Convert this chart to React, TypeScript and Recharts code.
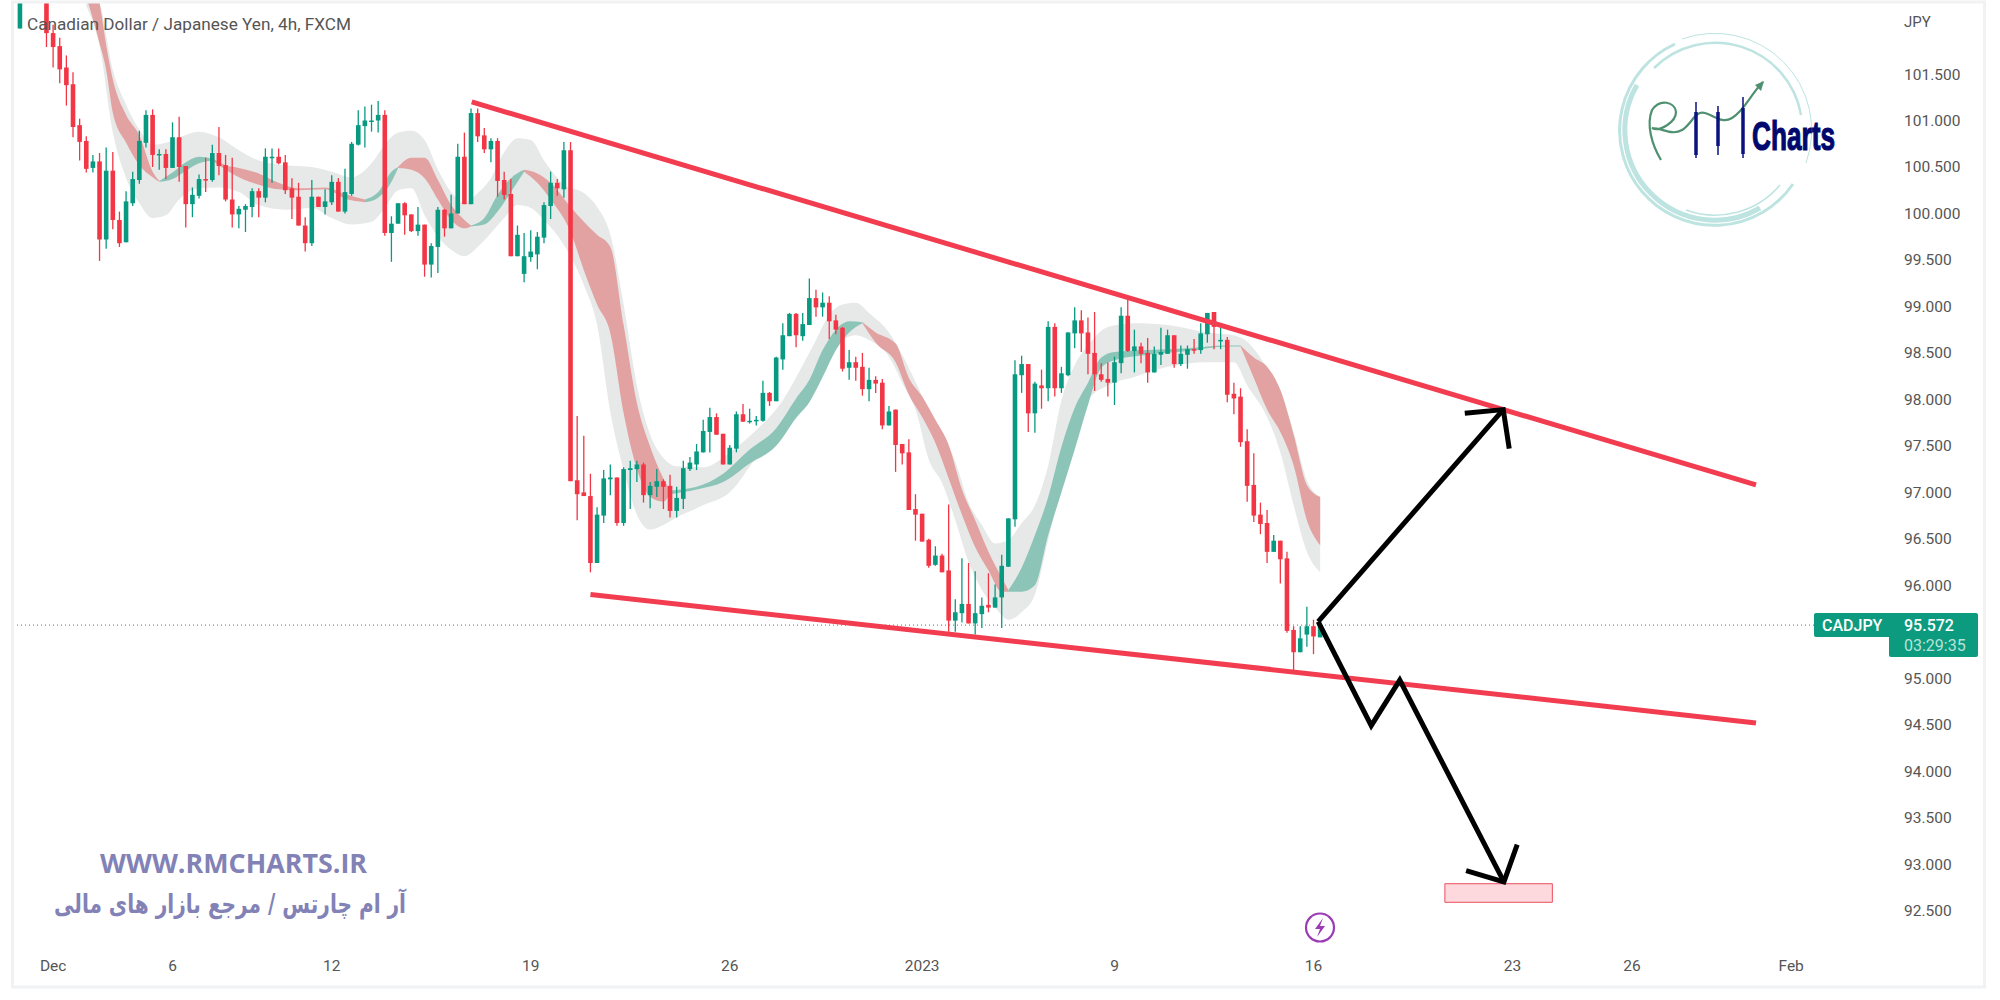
import React from 'react';
import {
  ComposedChart, Bar, Area, Line, XAxis, YAxis, ReferenceLine, ReferenceArea
} from 'recharts';

const UP = '#089981';
const DOWN = '#f23645';

// 4h candles, one per bar index, top-left ones run off the visible range
const opens = [
  101.99, 102.9, 102.7, 102.6, 102.45, 101.94, 101.80, 101.57, 101.39, 100.95,
  100.78, 100.49, 100.56, 99.72, 100.46, 99.93, 99.69, 100.11, 100.36, 100.76,
  101.06, 100.63, 100.64, 100.49, 100.82, 100.51, 100.10, 100.19, 100.37, 100.36,
  100.65, 100.52, 100.15, 99.99, 100.04, 100.07, 100.24, 100.17, 100.60, 100.61,
  100.55, 100.27, 100.18, 99.87, 99.68, 100.18, 100.07, 100.12, 100.34, 100.02,
  100.21, 100.74, 100.94, 100.99, 101.00, 101.06, 99.79, 99.89, 100.11, 99.99,
  99.81, 99.88, 99.45, 99.64, 100.04, 99.84, 100.00, 100.61, 100.10, 101.08,
  100.84, 100.69, 100.78, 100.36, 100.21, 99.54, 99.35, 99.53, 99.56, 99.74,
  100.08, 100.33, 100.26, 100.68, 97.13, 97.00, 96.96, 96.24, 96.75, 97.14,
  97.16, 96.67, 97.24, 97.25, 97.30, 96.97, 97.06, 97.12, 97.07, 96.80,
  96.93, 97.25, 97.30, 97.43, 97.65, 97.81, 97.63, 97.30, 97.47, 97.84,
  97.76, 97.77, 97.77, 98.07, 97.98, 98.43, 98.68, 98.92, 98.68, 98.80,
  99.09, 98.99, 99.04, 98.85, 98.77, 98.34, 98.40, 98.35, 98.11, 98.21,
  98.18, 97.72, 97.89, 97.52, 97.43, 96.82, 96.77, 96.49, 96.22, 96.32,
  96.16, 95.62, 95.70, 95.80, 95.59, 95.69, 95.79, 95.76, 95.87, 96.20,
  96.71, 98.26, 98.38, 97.85, 98.15, 98.12, 98.78, 98.12, 98.26, 98.71,
  98.85, 98.72, 98.50, 98.27, 98.22, 98.18, 98.39, 98.90, 98.52, 98.57,
  98.50, 98.29, 98.48, 98.49, 98.69, 98.38, 98.48, 98.54, 98.53, 98.70,
  98.94, 98.63, 98.64, 98.06, 98.03, 97.55, 97.08, 96.76, 96.67, 96.36,
  96.48, 96.29, 95.52, 95.28, 95.47, 95.56, 95.44,
];
const highs = [
  102.40, 103.0, 102.9, 102.7, 102.6, 102.03, 101.89, 101.70, 101.52, 101.02,
  100.83, 100.63, 100.65, 100.71, 100.66, 100.02, 100.24, 100.45, 100.89, 101.11,
  101.12, 100.69, 100.69, 100.98, 101.04, 100.51, 100.28, 100.42, 100.60, 100.74,
  100.93, 100.63, 100.60, 100.08, 100.10, 100.27, 100.27, 100.70, 100.70, 100.70,
  100.63, 100.38, 100.33, 99.96, 100.36, 100.18, 100.26, 100.41, 100.38, 100.48,
  100.77, 101.11, 101.15, 101.17, 101.21, 101.11, 99.97, 100.11, 100.12, 99.99,
  100.07, 99.88, 99.68, 100.07, 100.05, 100.20, 100.75, 100.87, 101.13, 101.13,
  100.92, 100.81, 100.81, 100.45, 100.37, 99.87, 99.79, 99.82, 99.80, 100.12,
  100.45, 100.37, 100.77, 100.77, 97.82, 97.61, 97.20, 96.84, 97.24, 97.30,
  97.16, 97.27, 97.34, 97.34, 97.32, 97.11, 97.25, 97.14, 97.19, 97.06,
  97.34, 97.38, 97.52, 97.78, 97.91, 97.85, 97.63, 97.51, 97.87, 97.95,
  97.90, 97.82, 98.20, 98.08, 98.46, 98.82, 98.93, 98.93, 98.93, 99.30,
  99.18, 99.15, 99.11, 98.91, 98.78, 98.53, 98.46, 98.50, 98.34, 98.25,
  98.22, 97.93, 97.89, 97.52, 97.57, 96.98, 96.77, 96.50, 96.42, 96.34,
  96.87, 95.85, 96.29, 96.24, 96.15, 95.87, 96.13, 96.01, 96.33, 96.72,
  98.42, 98.47, 98.38, 98.19, 98.32, 98.84, 98.82, 98.35, 98.72, 98.99,
  98.96, 98.88, 98.94, 98.39, 98.40, 98.46, 98.99, 99.09, 98.75, 98.61,
  98.66, 98.57, 98.77, 98.75, 98.69, 98.58, 98.58, 98.65, 98.82, 98.93,
  98.94, 98.77, 98.67, 98.18, 98.12, 97.68, 97.42, 96.89, 96.81, 96.54,
  96.48, 96.36, 95.56, 95.56, 95.77, 95.63, 95.63,
];
const lows = [
  101.99, 102.6, 102.4, 102.35, 101.79, 101.57, 101.40, 101.16, 100.82, 100.57,
  100.44, 100.44, 99.49, 99.62, 99.83, 99.64, 99.69, 100.08, 100.32, 100.71,
  100.50, 100.47, 100.37, 100.49, 100.34, 99.85, 99.96, 100.16, 100.23, 100.34,
  100.41, 100.13, 99.85, 99.84, 99.80, 99.96, 99.96, 100.12, 100.33, 100.53,
  100.21, 99.94, 99.87, 99.59, 99.65, 100.07, 99.99, 100.09, 100.02, 100.00,
  100.19, 100.73, 100.71, 100.88, 100.87, 99.76, 99.48, 99.89, 99.77, 99.80,
  99.76, 99.32, 99.31, 99.36, 99.75, 99.84, 100.00, 100.10, 100.10, 100.77,
  100.65, 100.55, 100.18, 100.15, 99.54, 99.54, 99.26, 99.48, 99.40, 99.68,
  99.94, 100.19, 100.17, 97.12, 96.70, 96.96, 96.14, 96.24, 96.67, 96.97,
  96.64, 96.64, 96.82, 97.11, 96.89, 96.83, 96.95, 96.82, 96.73, 96.73,
  96.82, 97.23, 97.24, 97.43, 97.43, 97.62, 97.30, 97.30, 97.43, 97.76,
  97.74, 97.72, 97.76, 97.93, 97.98, 98.32, 98.68, 98.56, 98.63, 98.80,
  98.89, 98.89, 98.65, 98.70, 98.30, 98.21, 98.20, 98.04, 97.98, 98.07,
  97.68, 97.72, 97.22, 97.30, 96.81, 96.48, 96.47, 96.19, 96.21, 96.14,
  95.50, 95.50, 95.60, 95.59, 95.47, 95.54, 95.71, 95.76, 95.54, 96.20,
  96.63, 98.07, 97.65, 97.64, 97.90, 97.98, 98.03, 98.07, 98.25, 98.55,
  98.51, 98.27, 98.09, 98.19, 98.03, 97.94, 98.28, 98.51, 98.29, 98.39,
  98.18, 98.29, 98.37, 98.49, 98.34, 98.36, 98.33, 98.49, 98.49, 98.61,
  98.54, 98.54, 97.97, 97.84, 97.49, 96.90, 96.68, 96.55, 96.24, 96.36,
  96.02, 95.49, 95.08, 95.28, 95.34, 95.26, 95.44,
];
const closes = [
  102.35, 102.7, 102.5, 102.45, 101.94, 101.79, 101.55, 101.38, 100.93, 100.77,
  100.48, 100.56, 99.72, 100.46, 99.93, 99.68, 100.13, 100.37, 100.78, 101.06,
  100.63, 100.64, 100.49, 100.82, 100.50, 100.10, 100.20, 100.37, 100.36, 100.65,
  100.51, 100.15, 99.99, 100.05, 100.08, 100.24, 100.17, 100.61, 100.61, 100.54,
  100.25, 100.17, 99.87, 99.68, 100.18, 100.07, 100.13, 100.34, 100.02, 100.23,
  100.75, 100.95, 101.00, 101.00, 101.06, 99.79, 99.89, 100.11, 99.98, 99.81,
  99.88, 99.45, 99.65, 100.04, 99.84, 100.00, 100.61, 100.10, 101.08, 100.83,
  100.69, 100.78, 100.35, 100.20, 99.54, 99.77, 99.54, 99.59, 99.75, 100.09,
  100.33, 100.27, 100.68, 97.12, 96.98, 96.96, 96.24, 96.76, 97.15, 97.16,
  96.67, 97.25, 97.26, 97.30, 96.97, 97.07, 97.12, 97.06, 96.80, 96.94,
  97.26, 97.32, 97.44, 97.66, 97.81, 97.62, 97.30, 97.48, 97.84, 97.76,
  97.77, 97.78, 98.07, 97.98, 98.45, 98.69, 98.92, 98.69, 98.81, 99.09,
  98.99, 99.04, 98.84, 98.75, 98.33, 98.40, 98.34, 98.11, 98.21, 98.17,
  97.72, 97.87, 97.51, 97.42, 96.81, 96.76, 96.47, 96.21, 96.32, 96.14,
  95.62, 95.71, 95.80, 95.59, 95.70, 95.78, 95.76, 95.87, 96.21, 96.72,
  98.27, 98.38, 97.85, 98.17, 98.12, 98.78, 98.12, 98.28, 98.72, 98.85,
  98.71, 98.49, 98.27, 98.21, 98.18, 98.40, 98.90, 98.52, 98.57, 98.49,
  98.29, 98.49, 98.51, 98.69, 98.38, 98.49, 98.54, 98.53, 98.71, 98.93,
  98.78, 98.64, 98.05, 98.01, 97.54, 97.07, 96.75, 96.66, 96.36, 96.48,
  96.28, 95.51, 95.28, 95.43, 95.56, 95.45, 95.57,
];

// [bar index, upper price, lower price]
const grayBand = [
  [10, 102.46, 102.23], [12, 102.26, 101.80], [14, 101.54, 100.87], [16, 101.17, 100.38],
  [18, 100.90, 100.11], [20, 100.74, 99.95], [22, 100.76, 99.98], [24, 100.82, 100.15],
  [27, 100.88, 100.27], [30, 100.82, 100.28], [33, 100.68, 100.23], [36, 100.57, 100.09],
  [40, 100.52, 100.04], [44, 100.50, 100.06], [47, 100.45, 99.95], [50, 100.39, 99.88],
  [53, 100.54, 99.91], [55, 100.74, 100.06], [57, 100.87, 100.25], [59, 100.89, 100.27],
  [61, 100.79, 99.98], [63, 100.47, 99.75], [65, 100.23, 99.61], [67, 100.11, 99.54],
  [69, 100.22, 99.64], [71, 100.38, 99.79], [73, 100.66, 99.95], [75, 100.81, 100.09],
  [77, 100.79, 100.06], [79, 100.57, 99.93], [82, 100.31, 99.66], [85, 100.22, 99.23],
  [87, 100.07, 98.80], [89, 99.77, 97.86], [91, 99.02, 97.24], [93, 98.15, 96.76],
  [95, 97.62, 96.60], [97, 97.37, 96.65], [99, 97.28, 96.73], [103, 97.27, 96.86],
  [107, 97.43, 97.00], [111, 97.67, 97.37], [115, 97.99, 97.67], [118, 98.37, 97.91],
  [120, 98.64, 98.26], [122, 98.91, 98.51], [124, 99.02, 98.64], [126, 99.04, 98.69],
  [128, 98.93, 98.64], [131, 98.72, 98.46], [133, 98.48, 98.18], [135, 98.19, 97.89],
  [137, 97.89, 97.35], [139, 97.64, 97.10], [141, 97.33, 96.70], [143, 96.89, 96.25],
  [145, 96.65, 95.95], [147, 96.45, 95.76], [149, 96.49, 95.63], [151, 96.67, 95.71],
  [153, 96.86, 95.90], [155, 97.29, 96.49], [157, 97.99, 97.08], [159, 98.37, 97.69],
  [161, 98.58, 97.99], [164, 98.78, 98.15], [168, 98.82, 98.24], [173, 98.80, 98.35],
  [179, 98.72, 98.40], [183, 98.69, 98.40], [185, 98.62, 98.15], [188, 98.34, 97.81],
  [190, 98.10, 97.43], [192, 97.65, 96.86], [194, 97.13, 96.36], [196, 96.95, 96.14],
];

const redBands = [
  [[10, 102.62, 102.33], [12, 102.26, 101.83], [13, 101.81, 101.54], [14, 101.44, 101.08],
    [16, 101.06, 100.76], [18, 100.84, 100.52], [20, 100.45, 100.39], [21, 100.35, 100.34]],
  [[29, 100.59, 100.57], [31, 100.52, 100.47], [33, 100.49, 100.39], [36, 100.43, 100.31],
    [39, 100.33, 100.26], [42, 100.27, 100.25], [46, 100.28, 100.26], [49, 100.21, 100.16],
    [52, 100.15, 100.12]],
  [[57, 100.50, 100.49], [59, 100.60, 100.47], [61, 100.60, 100.38], [63, 100.36, 100.15],
    [65, 100.09, 99.93], [67, 99.93, 99.84], [68, 99.87, 99.86]],
  [[76, 100.47, 100.45], [78, 100.43, 100.33], [80, 100.33, 100.15], [83, 100.07, 99.80],
    [85, 99.91, 99.39], [87, 99.77, 99.02], [89, 99.64, 98.71], [91, 98.80, 97.85],
    [93, 97.96, 97.25], [95, 97.49, 96.95], [97, 97.15, 96.90], [98, 97.02, 96.98]],
  [[127, 98.83, 98.82], [129, 98.72, 98.61], [132, 98.60, 98.40], [134, 98.23, 98.05],
    [136, 98.03, 97.81], [138, 97.78, 97.53], [140, 97.51, 97.15], [142, 97.03, 96.76],
    [144, 96.70, 96.41], [146, 96.36, 96.16], [148, 96.08, 95.93], [149, 95.95, 95.93]],
  [[184, 98.58, 98.57], [186, 98.45, 98.23], [188, 98.35, 97.89], [190, 98.10, 97.65],
    [192, 97.62, 97.29], [194, 97.08, 96.70], [196, 96.95, 96.43]],
];

const greenBands = [
  [[21, 100.35, 100.34], [23, 100.44, 100.37], [25, 100.55, 100.46], [27, 100.61, 100.54],
    [29, 100.59, 100.57]],
  [[52, 100.15, 100.12], [54, 100.23, 100.17], [56, 100.45, 100.34], [57, 100.50, 100.49]],
  [[68, 99.87, 99.86], [70, 99.95, 99.88], [72, 100.20, 100.02], [74, 100.38, 100.23],
    [76, 100.47, 100.45]],
  [[98, 97.02, 96.98], [102, 97.06, 97.03], [106, 97.20, 97.11], [110, 97.46, 97.31],
    [114, 97.69, 97.50], [117, 98.01, 97.80], [119, 98.21, 97.97], [121, 98.53, 98.24],
    [123, 98.75, 98.53], [125, 98.84, 98.72], [127, 98.83, 98.82]],
  [[149, 95.95, 95.93], [151, 96.19, 95.93], [153, 96.54, 96.00], [155, 96.95, 96.54],
    [157, 97.49, 97.00], [159, 97.91, 97.46], [161, 98.18, 97.94], [163, 98.45, 98.34],
    [165, 98.51, 98.42], [170, 98.53, 98.48], [176, 98.55, 98.52], [182, 98.58, 98.57],
    [184, 98.58, 98.57]],
];

// drawn trendlines and arrows: [bar index, price]
const upperTrend = [[68.1, 101.20], [261.7, 97.08]];
const lowerTrend = [[86, 95.90], [261.7, 94.52]];
const upArrow = [[195.7, 95.61], [223.6, 97.89]];
const upArrowHead = [[217.8, 97.85], [223.6, 97.89], [224.5, 97.47]];
const downArrow = [[195.7, 95.61], [203.7, 94.49], [208, 94.98], [223.7, 92.81]];
const downArrowHead = [[218, 92.93], [223.7, 92.81], [225.7, 93.21]];

const targetZone = { x1: 214.8, x2: 231, y1: 92.59, y2: 92.79 };
const lastPrice = 95.572;

// 95.500 sits under the price tag in the reference, so it has no label
const priceTicks = [
  92.5, 93, 93.5, 94, 94.5, 95, 96, 96.5, 97, 97.5, 98, 98.5, 99, 99.5, 100, 100.5, 101, 101.5,
];
const timeTicks = [5, 23, 47, 77, 107, 136, 165, 195, 225, 243, 267];
const timeLabels = ['Dec', '6', '12', '19', '26', '2023', '9', '16', '23', '26', 'Feb'];

const candleRows = opens.map((open, i) => ({
  x: i,
  open,
  high: highs[i],
  low: lows[i],
  close: closes[i],
  range: [lows[i], highs[i]],
}));

const toBandRows = (rows: number[][]) => rows.map(([x, hi, lo]) => ({ x, range: [lo, hi] }));
const toLineRows = (rows: number[][]) => rows.map(([x, y]) => ({ x, y }));

const Candle = (props: any) => {
  const { x, y, width, height, payload } = props;
  const { open, high, low, close } = payload;
  const mid = x + width / 2;
  const toY = (p: number) => y + ((high - p) / (high - low || 1)) * height;
  const color = close >= open ? UP : DOWN;
  const top = toY(Math.max(open, close));
  const bottom = toY(Math.min(open, close));
  return (
    <g>
      <line x1={mid} x2={mid} y1={y} y2={y + height} stroke={color} strokeWidth={1.3} />
      <rect x={mid - 2.3} y={top} width={4.6} height={Math.max(bottom - top, 1.5)} fill={color} />
    </g>
  );
};

const Band = ({ rows, fill }: { rows: number[][]; fill: string }) => (
  <Area
    data={toBandRows(rows)}
    dataKey="range"
    type="monotone"
    stroke="none"
    fill={fill}
    fillOpacity={1}
    dot={false}
    activeDot={false}
    legendType="none"
    isAnimationActive={false}
  />
);

const Stroke = ({ rows, color, width }: { rows: number[][]; color: string; width: number }) => (
  <Line
    data={toLineRows(rows)}
    dataKey="y"
    type="linear"
    stroke={color}
    strokeWidth={width}
    dot={false}
    activeDot={false}
    legendType="none"
    isAnimationActive={false}
  />
);

const tickStyle = { fontFamily: 'Roboto, sans-serif', fontSize: 15.5, fill: '#555' };

const Overlay = () => (
  <svg width={2000} height={1000} style={{ position: 'absolute', left: 0, top: 0, pointerEvents: 'none' }}>
    <rect x={12.5} y={2} width={1972} height={985} fill="none" stroke="#f1f2f4" strokeWidth={3} />
    <text x={27} y={30} fontFamily="Roboto, sans-serif" fontSize={17} fill="#555" textLength={324} lengthAdjust="spacingAndGlyphs">
      Canadian Dollar / Japanese Yen, 4h, FXCM
    </text>
    <text x={1904} y={27} fontFamily="Roboto, sans-serif" fontSize={15} fill="#555">JPY</text>

    {/* price tag */}
    <rect x={1814} y={613} width={164} height={24} rx={2} fill="#0c9b7e" />
    <rect x={1889} y={633} width={89} height={24} rx={2} fill="#0c9b7e" />
    <text x={1822} y={631} fontFamily="Roboto, sans-serif" fontWeight={500} fontSize={16} fill="#fff">CADJPY</text>
    <text x={1904} y={631} fontFamily="Roboto, sans-serif" fontWeight={500} fontSize={16} fill="#fff">95.572</text>
    <text x={1904} y={651} fontFamily="Roboto, sans-serif" fontSize={16} fill="#b8e2d8">03:29:35</text>

    {/* logo */}
    <g fill="none" stroke="#bde4e1">
      <path d="M1675 44 A95 95 0 1 0 1793 184" strokeWidth={3} />
      <path d="M1637 85 A90 90 0 0 0 1760 208" strokeWidth={5} />
      <path d="M1654 68 A87 87 0 0 1 1801 115" strokeWidth={2.5} />
      <path d="M1682 39 A97 97 0 0 1 1806 163" strokeWidth={1} />
      <path d="M1686 210 A85 85 0 0 0 1780 185" strokeWidth={1.5} />
    </g>
    <path
      d="M1661 160 C1652 145,1646 125,1652 110 C1660 98,1675 102,1676 112 C1676 122,1660 132,1652 128 C1662 128,1672 136,1682 130 C1692 124,1695 110,1705 113 C1715 116,1722 124,1732 118 C1745 110,1750 95,1763 82"
      fill="none"
      stroke="#4f9070"
      strokeWidth={2.2}
    />
    <path d="M1764 81 L1755 85 L1761 91 Z" fill="#4f9070" />
    <g stroke="#0a1180">
      <line x1={1696} x2={1696} y1={102} y2={158} strokeWidth={1.5} />
      <line x1={1696} x2={1696} y1={112} y2={155} strokeWidth={3.5} />
      <line x1={1718} x2={1718} y1={106} y2={155} strokeWidth={1.5} />
      <line x1={1718} x2={1718} y1={112} y2={146} strokeWidth={3.5} />
      <line x1={1743} x2={1743} y1={97} y2={158} strokeWidth={1.5} />
      <line x1={1743} x2={1743} y1={108} y2={154} strokeWidth={3.5} />
    </g>
    <text x={1752} y={150} fontFamily="Liberation Sans, sans-serif" fontWeight={700} fontSize={41} fill="#00086e" textLength={83} lengthAdjust="spacingAndGlyphs" stroke="#00086e" strokeWidth={1.2}>
      Charts
    </text>

    {/* watermark */}
    <text x={100} y={873} fontFamily="Open Sans, sans-serif" fontWeight={700} fontSize={27} fill="#8282b6" textLength={267} lengthAdjust="spacingAndGlyphs">
      WWW.RMCHARTS.IR
    </text>
    <text x={406} y={913} direction="rtl" fontFamily="DejaVu Sans, sans-serif" fontWeight={700} fontSize={26} fill="#8282b6" textLength={352} lengthAdjust="spacingAndGlyphs">
      آر ام چارتس / مرجع بازار های مالی
    </text>

    {/* news marker */}
    <circle cx={1320} cy={927.5} r={14} fill="#fff" stroke="#9c3cb4" strokeWidth={2.2} />
    <path d="M1323 918 L1315 929 L1320 929 L1317 937 L1325 926 L1320 926 Z" fill="#9c3cb4" />
  </svg>
);

const App: React.FC = () => {
  return (
    <div style={{ position: 'absolute', left: 0, top: 0, width: 2000, height: 1000, background: '#fff' }}>
      <ComposedChart
        width={2000}
        height={1000}
        data={candleRows}
        margin={{ top: 3, right: 15, bottom: 13, left: 14 }}
      >
        <XAxis
          dataKey="x"
          type="number"
          domain={[-0.9, 281.9]}
          allowDataOverflow
          ticks={timeTicks}
          tickFormatter={(v: number) => timeLabels[timeTicks.indexOf(v)]}
          tick={tickStyle}
          tickSize={0}
          tickMargin={10}
          axisLine={false}
          height={37}
          interval={0}
        />
        <YAxis
          orientation="right"
          type="number"
          domain={[92.077, 102.264]}
          allowDataOverflow
          ticks={priceTicks}
          tickFormatter={(v: number) => v.toFixed(3)}
          tick={tickStyle}
          tickSize={0}
          tickMargin={14}
          axisLine={false}
          width={95}
          interval={0}
        />
        <Band rows={grayBand} fill="#e7e8e8" />
        {redBands.map((rows, i) => <Band key={`red-${i}`} rows={rows} fill="#e3a2a2" />)}
        {greenBands.map((rows, i) => <Band key={`green-${i}`} rows={rows} fill="#8cc5b8" />)}
        <ReferenceArea {...targetZone} fill="#fdd8dc" fillOpacity={1} stroke="#ea4f5f" strokeWidth={1} />
        <ReferenceLine y={lastPrice} stroke={UP} strokeDasharray="1 3" strokeWidth={1} />
        <Bar dataKey="range" barSize={5} shape={Candle} isAnimationActive={false} legendType="none" />
        <Stroke rows={upperTrend} color="#f23d50" width={5} />
        <Stroke rows={lowerTrend} color="#f23d50" width={5} />
        <Stroke rows={upArrow} color="#000" width={5} />
        <Stroke rows={upArrowHead} color="#000" width={5} />
        <Stroke rows={downArrow} color="#000" width={5} />
        <Stroke rows={downArrowHead} color="#000" width={5} />
      </ComposedChart>
      <Overlay />
    </div>
  );
};

export default App;
